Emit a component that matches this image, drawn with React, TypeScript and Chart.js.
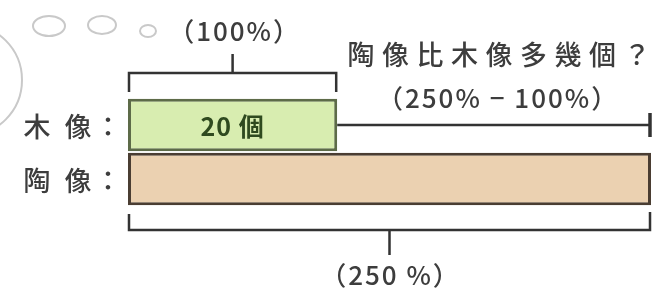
import React, { useEffect, useRef } from "react";
import { Chart, registerables } from "chart.js";

Chart.register(...registerables);

// ---- data ----
const categories = ["木像：", "陶像："];
const percentValues = [100, 250];
const valueLabels = ["20 個", ""];
const axisMin = 0;
const axisMax = 250;
const topLabel = "（100%）";
const questionLabel = "陶像比木像多幾個？";
const diffLabel = "（250% − 100%）";
const totalLabel = "（250 %）";

const barColors = ["#d8edb0", "#ebd1b1"];
const barBorders = ["#5d6b48", "#4a3d32"];

const FONT = "'Noto Sans CJK TC', 'Noto Sans', sans-serif";
const INK = "#3d3d3d";

function drawSpaced(ctx: CanvasRenderingContext2D, text: string, cx: number, cy: number, pitch: number) {
  const chars = Array.from(text);
  const start = cx - (pitch * (chars.length - 1)) / 2;
  ctx.textAlign = "center";
  chars.forEach((c, i) => ctx.fillText(c, start + i * pitch, cy));
}

const annotationPlugin = {
  id: "annotations",
  afterDraw(chart: any) {
    const ctx: any = chart.ctx;
    const xs = chart.scales.x;
    const ys = chart.scales.y;
    const ca = chart.chartArea;
    const x0 = xs.getPixelForValue(axisMin);
    const x1 = xs.getPixelForValue(percentValues[0]);
    const x2 = xs.getPixelForValue(percentValues[1]);
    const y0 = ys.getPixelForValue(0);

    ctx.save();
    // decorative thought bubbles
    ctx.strokeStyle = "#c9c9c9";
    ctx.lineWidth = 2;
    ctx.beginPath();
    ctx.arc(-34, 80, 56, -Math.PI / 2, Math.PI / 2);
    ctx.stroke();
    [[49, 26, 16, 10], [102, 25, 14, 9], [148, 31, 8, 6]].forEach(([cx, cy, rx, ry]) => {
      ctx.beginPath();
      ctx.ellipse(cx, cy, rx, ry, 0, 0, Math.PI * 2);
      ctx.stroke();
    });

    ctx.strokeStyle = "#333";
    ctx.lineCap = "butt";
    // top bracket (100%)
    const ty = ca.top - 25;
    ctx.lineWidth = 2.5;
    ctx.beginPath();
    ctx.moveTo(x0 + 1, ca.top - 6);
    ctx.lineTo(x0 + 1, ty);
    ctx.lineTo(x1 - 1, ty);
    ctx.lineTo(x1 - 1, ca.top - 6);
    ctx.moveTo((x0 + x1) / 2, ty);
    ctx.lineTo((x0 + x1) / 2, ca.top - 44);
    ctx.stroke();

    // right bracket (difference)
    ctx.lineWidth = 2.5;
    ctx.beginPath();
    ctx.moveTo(x1, y0);
    ctx.lineTo(x2 - 1, y0);
    ctx.stroke();
    ctx.lineWidth = 3.5;
    ctx.beginPath();
    ctx.moveTo(x2 - 1, y0 - 12);
    ctx.lineTo(x2 - 1, y0 + 12);
    ctx.stroke();

    // bottom bracket (250%)
    const by = ca.bottom + 24;
    ctx.lineWidth = 2.5;
    ctx.beginPath();
    ctx.moveTo(x0 + 1, ca.bottom + 8);
    ctx.lineTo(x0 + 1, by);
    ctx.lineTo(x2 - 1, by);
    ctx.lineTo(x2 - 1, ca.bottom + 6);
    ctx.moveTo((x0 + x2) / 2, by);
    ctx.lineTo((x0 + x2) / 2, by + 25);
    ctx.stroke();

    // texts
    ctx.fillStyle = INK;
    ctx.textBaseline = "middle";
    ctx.font = `500 26px ${FONT}`;
    ctx.textAlign = "center";
    ctx.letterSpacing = "2px";
    ctx.fillText(topLabel, (x0 + x1) / 2 + 2, 31);
    ctx.fillText(diffLabel, (x1 + x2) / 2 + 4, 98);
    ctx.fillText(totalLabel, (x0 + x2) / 2 + 1, 275);
    ctx.letterSpacing = "0px";
    ctx.font = `500 27px ${FONT}`;
    drawSpaced(ctx, questionLabel, (x1 + x2) / 2 + 5, 55, 34.5);

    // category labels
    ctx.font = `500 27px ${FONT}`;
    const offs = [-91, -50, -20];
    categories.forEach((lab, i) => {
      const yy = ys.getPixelForValue(i) + 2;
      Array.from(lab).forEach((c, k) => {
        ctx.textAlign = "center";
        ctx.fillText(c, ca.left + offs[k], yy);
      });
    });

    // value labels inside bars
    ctx.font = `bold 25px ${FONT}`;
    ctx.fillStyle = "#2f4a1f";
    ctx.textAlign = "center";
    ctx.letterSpacing = "1px";
    valueLabels.forEach((v, i) => {
      if (!v) return;
      const xv = xs.getPixelForValue(percentValues[i] / 2);
      ctx.fillText(v, xv, ys.getPixelForValue(i) + 1);
    });
    ctx.restore();
  },
};

export default function App() {
  const ref = useRef<HTMLCanvasElement>(null);
  useEffect(() => {
    const chart = new Chart(ref.current!, {
      type: "bar",
      data: {
        labels: categories,
        datasets: [
          {
            data: percentValues,
            backgroundColor: barColors,
            borderColor: barBorders,
            borderWidth: 3,
            borderSkipped: false,
            barPercentage: 1,
            categoryPercentage: 0.97,
          },
        ],
      },
      options: {
        indexAxis: "y",
        animation: false,
        responsive: true,
        maintainAspectRatio: false,
        layout: { padding: { left: 128, right: 7, top: 98, bottom: 87 } },
        plugins: { legend: { display: false }, tooltip: { enabled: false } },
        scales: {
          x: { display: false, min: axisMin, max: axisMax },
          y: { display: false },
        },
      },
      plugins: [annotationPlugin],
    } as any);
    return () => chart.destroy();
  }, []);
  return (
    <div style={{ position: "fixed", left: 0, top: 0, width: 658, height: 293, background: "#fff" }}>
      <canvas ref={ref} />
    </div>
  );
}
